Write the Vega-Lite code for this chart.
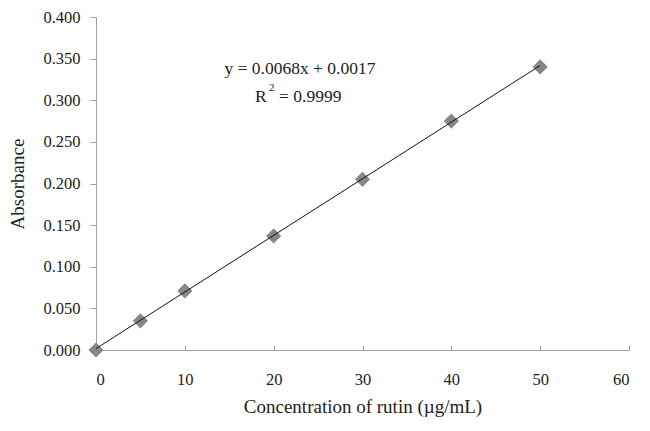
{
  "$schema": "https://vega.github.io/schema/vega-lite/v6.json",
  "width": 533,
  "height": 333,
  "autosize": "none",
  "padding": {"left": 96, "top": 17, "right": 21, "bottom": 81},
  "background": "white",
  "config": {
    "view": {"stroke": null},
    "font": "Liberation Serif",
    "axis": {
      "grid": false,
      "domainColor": "#a0a0a0",
      "tickColor": "#a0a0a0",
      "labelColor": "#222222",
      "titleColor": "#222222",
      "labelFont": "Liberation Serif",
      "titleFont": "Liberation Serif",
      "labelFontSize": 16.5,
      "titleFontSize": 19,
      "titleFontWeight": "normal"
    }
  },
  "datasets": {
    "points": [
      {"conc": 0, "abs": 0.0},
      {"conc": 5, "abs": 0.035},
      {"conc": 10, "abs": 0.071},
      {"conc": 20, "abs": 0.137},
      {"conc": 30, "abs": 0.205},
      {"conc": 40, "abs": 0.275},
      {"conc": 50, "abs": 0.340}
    ],
    "fit": [
      {"conc": 0, "abs": 0.0017},
      {"conc": 50, "abs": 0.3417}
    ],
    "eq": [
      {"conc": 22.96, "abs": 0.3375, "text": "y = 0.0068x + 0.0017"}
    ],
    "r2": [
      {"conc": 17.9, "abs": 0.304, "part": "R"},
      {"conc": 17.9, "abs": 0.304, "part": "2"},
      {"conc": 17.9, "abs": 0.304, "part": "= 0.9999"}
    ]
  },
  "layer": [
    {
      "data": {"name": "points"},
      "mark": {"type": "point", "shape": "diamond", "filled": true, "color": "#878787", "size": 230, "opacity": 1},
      "encoding": {
        "x": {"field": "conc", "type": "quantitative", "scale": {"domain": [0, 60]},
              "axis": {"title": "Concentration of rutin (µg/mL)", "values": [0,10,20,30,40,50,60], "tickSize": -5, "labelPadding": 26, "titlePadding": 10}},
        "y": {"field": "abs", "type": "quantitative", "scale": {"domain": [0, 0.4]},
              "axis": {"title": "Absorbance", "values": [0,0.05,0.1,0.15,0.2,0.25,0.3,0.35,0.4], "format": ".3f", "tickSize": 6, "labelPadding": 10, "titlePadding": 15}}
      }
    },
    {
      "data": {"name": "fit"},
      "mark": {"type": "line", "color": "#111111", "strokeWidth": 1},
      "encoding": {
        "x": {"field": "conc", "type": "quantitative"},
        "y": {"field": "abs", "type": "quantitative"}
      }
    },
    {
      "data": {"name": "eq"},
      "mark": {"type": "text", "font": "Liberation Serif", "fontSize": 17.5, "color": "#222222", "align": "center", "baseline": "middle"},
      "encoding": {
        "x": {"field": "conc", "type": "quantitative"},
        "y": {"field": "abs", "type": "quantitative"},
        "text": {"field": "text"}
      }
    },
    {
      "data": {"name": "r2"},
      "transform": [{"filter": "datum.part == 'R'"}],
      "mark": {"type": "text", "font": "Liberation Serif", "fontSize": 17.5, "color": "#222222", "align": "left", "baseline": "middle"},
      "encoding": {
        "x": {"field": "conc", "type": "quantitative"},
        "y": {"field": "abs", "type": "quantitative"},
        "text": {"field": "part"}
      }
    },
    {
      "data": {"name": "r2"},
      "transform": [{"filter": "datum.part == '2'"}],
      "mark": {"type": "text", "font": "Liberation Serif", "fontSize": 11, "color": "#222222", "align": "left", "baseline": "middle", "dx": 14, "dy": -9},
      "encoding": {
        "x": {"field": "conc", "type": "quantitative"},
        "y": {"field": "abs", "type": "quantitative"},
        "text": {"field": "part"}
      }
    },
    {
      "data": {"name": "r2"},
      "transform": [{"filter": "datum.part == '= 0.9999'"}],
      "mark": {"type": "text", "font": "Liberation Serif", "fontSize": 17.5, "color": "#222222", "align": "left", "baseline": "middle", "dx": 24},
      "encoding": {
        "x": {"field": "conc", "type": "quantitative"},
        "y": {"field": "abs", "type": "quantitative"},
        "text": {"field": "part"}
      }
    }
  ]
}
